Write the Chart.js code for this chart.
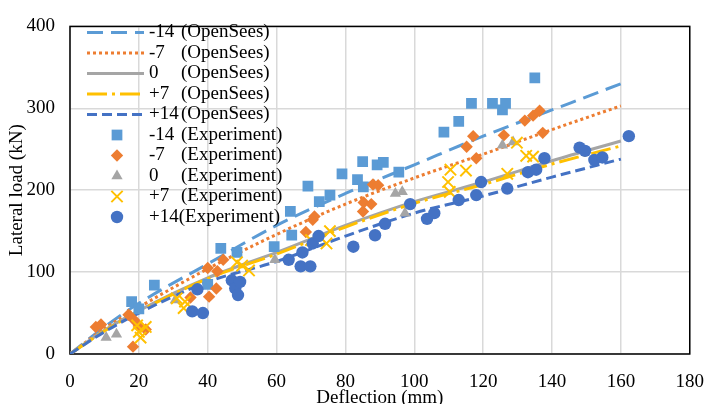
<!DOCTYPE html>
<html>
<head>
<meta charset="utf-8">
<script src="https://cdn.jsdelivr.net/npm/chart.js@4"></script>
<style>
html, body { margin: 0; padding: 0; background: #fff; }
#wrap { width: 721px; height: 404px; }
</style>
</head>
<body>
<div id="wrap"><canvas id="loadChart" width="721" height="404"></canvas></div>
<script>
// OpenSees curves (deflection in mm, load in kN)
const simDeflection = [0, 10, 20, 40, 60, 80, 100, 120, 140, 160];
const simM14 = [0, 33, 62, 110, 157, 196, 231, 266, 298, 330];
const simM7  = [0, 31, 57, 104, 146, 183, 215, 244, 274, 303];
const sim0   = [0, 29, 53, 93, 124, 157, 186, 210, 236, 260];
const simP7  = [0, 28, 52, 92, 122, 155, 184, 207, 232, 254];
const simP14 = [0, 27, 50, 88, 113, 144, 172, 193, 216, 238];

// experiment points
const expM14Defl = [17.9, 20, 24.5, 40, 43.8, 48.5, 59.3, 64, 64.4, 69.1, 72.4, 75.5, 79, 83.5, 85, 85.2, 89.2, 91, 95.5, 108.6, 112.9, 116.6, 122.7, 125.6, 126.5, 135];
const expM14Load = [64, 55, 84, 85, 129, 124, 131, 174, 145, 205, 186, 194, 220, 213, 235, 204, 231, 234, 222, 271, 284, 306, 306, 298, 306, 337];

const expM7Defl = [7.5, 9, 17, 18.5, 20, 22, 18.3, 35, 40, 40.4, 42.5, 42.8, 44.5, 68.5, 70.5, 71, 85.1, 85.3, 87.5, 88, 89.5, 115.2, 117.1, 118, 126, 132.1, 134.5, 136.4, 137.3];
const expM7Load = [33, 36, 48, 42, 35, 30, 9, 69, 105, 70, 80, 101, 115, 149, 164, 168, 174, 185, 183, 207, 206, 253, 266, 239, 267, 285, 291, 297, 270];

const exp0Defl = [10.5, 13.5, 30.6, 59.5, 94.5, 96.5, 97.3, 125.6, 128.7];
const exp0Load = [20, 24, 66, 115, 196, 198, 172, 255, 259];

const expP7Defl = [19.5, 20, 20.5, 22, 31, 33, 33.4, 48.5, 50, 52, 70, 74.5, 75.5, 109.8, 110.5, 110.3, 115, 127, 129.8, 132.5, 134.5];
const expP7Load = [35, 27, 20, 33, 68, 56, 64, 112, 108, 102, 139, 135, 150, 210, 225, 198, 224, 220, 258, 242, 241];

const expP14Defl = [35.5, 38.6, 37, 47, 48, 48.8, 49.4, 63.5, 67, 67.5, 69.8, 70.5, 72.2, 82.3, 88.6, 91.5, 98.8, 103.7, 105.8, 112.9, 118, 119.4, 127, 133, 135.4, 137.8, 148, 149.6, 152.3, 154.6, 162.3];
const expP14Load = [52, 50, 79, 90, 80, 72, 88, 115, 107, 124, 107, 135, 144, 131, 145, 159, 183, 165, 172, 188, 194, 210, 202, 222, 225, 239, 252, 248, 237, 240, 266];

const seriesLabels = ['-14 (OpenSees)', '-7 (OpenSees)', '0 (OpenSees)', '+7 (OpenSees)', '+14 (OpenSees)',
  '-14 (Experiment)', '-7 (Experiment)', '0 (Experiment)', '+7 (Experiment)', '+14(Experiment)'];
const xTicks = [0, 20, 40, 60, 80, 100, 120, 140, 160, 180];
const yTicks = [0, 100, 200, 300, 400];

const FONT = 'Liberation Serif, Times New Roman, serif';

function pts(xs, ys) {
  return xs.map((x, i) => ({x: x, y: ys[i]}));
}

function simLine(label, ys, color, dash, order) {
  return {
    type: 'line', label: label, data: pts(simDeflection, ys),
    borderColor: color, borderWidth: 3, borderDash: dash,
    pointRadius: 0, fill: false, cubicInterpolationMode: 'monotone', order: order
  };
}

function expPoints(label, xs, ys, color, style, r, order) {
  const cross = style === 'crossRot';
  return {
    type: 'scatter', label: label, data: pts(xs, ys),
    pointStyle: style, pointRadius: r, pointHoverRadius: r,
    backgroundColor: color, borderColor: color,
    pointBorderWidth: cross ? 2 : 0, order: order
  };
}

const datasets = [
  simLine(seriesLabels[0], simM14, '#5B9BD5', [16, 8], 9),
  simLine(seriesLabels[1], simM7, '#ED7D31', [3, 3], 8),
  simLine(seriesLabels[2], sim0, '#A5A5A5', [], 7),
  simLine(seriesLabels[3], simP7, '#FFC000', [20, 5, 3, 5], 6),
  simLine(seriesLabels[4], simP14, '#4472C4', [10, 5], 5),
  expPoints(seriesLabels[5], expM14Defl, expM14Load, '#5B9BD5', 'rect', 7.6, 4),
  expPoints(seriesLabels[6], expM7Defl, expM7Load, '#ED7D31', 'rectRot', 6.2, 3),
  expPoints(seriesLabels[7], exp0Defl, exp0Load, '#A5A5A5', 'triangle', 6.5, 2),
  expPoints(seriesLabels[8], expP7Defl, expP7Load, '#FFC000', 'crossRot', 8, 1),
  expPoints(seriesLabels[9], expP14Defl, expP14Load, '#4472C4', 'circle', 6.2, 0)
];

// black frame round the plot area
const framePlugin = {
  id: 'frame',
  beforeDatasetsDraw(chart) {
    const a = chart.chartArea, ctx = chart.ctx;
    ctx.save();
    ctx.strokeStyle = '#000';
    ctx.lineWidth = 1.5;
    ctx.strokeRect(a.left, a.top, a.right - a.left, a.bottom - a.top);
    ctx.restore();
  }
};

// legend drawn inside the plot, top left, no background
const insideLegend = {
  id: 'insideLegend',
  afterDraw(chart) {
    const ctx = chart.ctx;
    const x0 = chart.chartArea.left;
    ctx.save();
    ctx.font = '19px ' + FONT;
    ctx.fillStyle = '#000';
    ctx.textBaseline = 'middle';
    chart.data.datasets.forEach((ds, i) => {
      const y = 32.5 + i * 20.5;
      if (ds.type === 'line') {
        ctx.save();
        ctx.strokeStyle = ds.borderColor;
        ctx.lineWidth = 3;
        ctx.setLineDash(ds.borderDash);
        ctx.beginPath();
        ctx.moveTo(x0 + 17, y);
        ctx.lineTo(x0 + 74, y);
        ctx.stroke();
        ctx.restore();
      } else {
        ctx.save();
        ctx.fillStyle = ds.backgroundColor;
        ctx.strokeStyle = ds.borderColor;
        ctx.lineWidth = ds.pointBorderWidth;
        Chart.helpers.drawPoint(ctx, {pointStyle: ds.pointStyle, radius: ds.pointRadius, rotation: 0, borderWidth: ds.pointBorderWidth}, x0 + 47, y);
        ctx.restore();
      }
      const m = ds.label.match(/^(\S+)\s+(.*)$/);
      if (m) {
        ctx.fillText(m[1], x0 + 79, y);
        ctx.fillText(m[2], x0 + 111, y);
      } else {
        ctx.fillText(ds.label, x0 + 79, y);
      }
    });
    ctx.restore();
  }
};

new Chart(document.getElementById('loadChart'), {
  data: {datasets: datasets},
  plugins: [framePlugin, insideLegend],
  options: {
    responsive: false,
    animation: false,
    devicePixelRatio: 1,
    layout: {padding: {top: 16, right: 12, left: 0, bottom: 0}},
    plugins: {legend: {display: false}, tooltip: {enabled: false}},
    scales: {
      x: {
        type: 'linear', min: 0, max: 180,
        afterBuildTicks: s => { s.ticks = xTicks.map(v => ({value: v})); },
        afterFit: s => { s.height = 50; },
        grid: {color: '#D9D9D9', lineWidth: 1.5, drawTicks: false},
        border: {display: false},
        ticks: {padding: 17, color: '#000', font: {family: FONT, size: 19}},
        title: {display: true, text: 'Deflection (mm)', color: '#000', padding: 0,
          font: {family: FONT, size: 19, lineHeight: 0.62}}
      },
      y: {
        type: 'linear', min: 0, max: 400,
        afterBuildTicks: s => { s.ticks = yTicks.map(v => ({value: v})); },
        afterFit: s => { s.width = 70; },
        grid: {color: '#D9D9D9', lineWidth: 1.5, drawTicks: false},
        border: {display: false},
        ticks: {padding: 15, color: '#000', font: {family: FONT, size: 19}},
        title: {display: true, text: 'Lateral load (kN)', color: '#000', padding: {top: 8, bottom: 0},
          font: {family: FONT, size: 19, lineHeight: 1}}
      }
    }
  }
});
</script>
</body>
</html>
